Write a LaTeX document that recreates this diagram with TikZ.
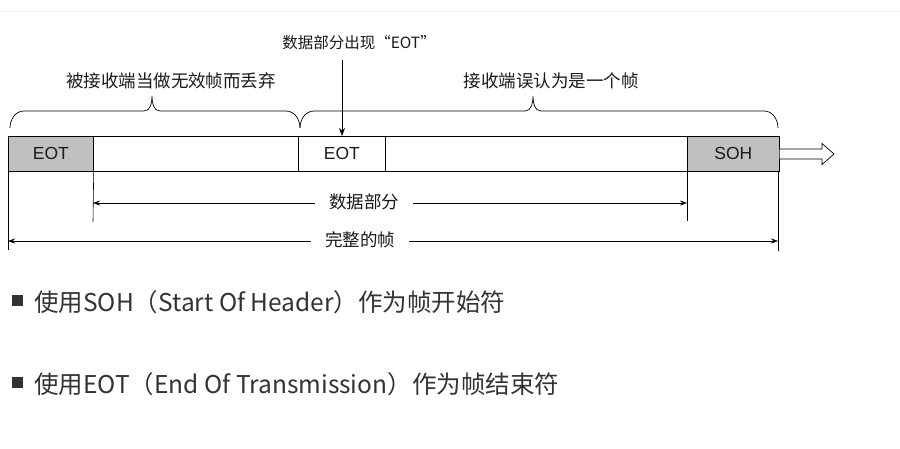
\documentclass[tikz,border=0pt]{standalone}
\usepackage{fontspec}
\setmainfont{Liberation Sans}
\newfontfamily\cjk{Noto Sans CJK SC}
\usetikzlibrary{arrows.meta}
\definecolor{boxgray}{HTML}{C0C0C0}
\definecolor{txt}{HTML}{1A1A1A}
\definecolor{bul}{HTML}{333333}
\begin{document}
\begin{tikzpicture}[x=1pt,y=-1pt,
  line width=0.7pt,
  cell/.style={draw=black, minimum height=35pt, inner sep=0pt, anchor=north west, text=txt,
               font=\fontsize{17.5}{19}\selectfont},
  graycell/.style={cell, fill=boxgray},
  lbl/.style={font=\cjk\fontsize{17.5}{20}\selectfont, text=txt, inner sep=0pt},
  gaplbl/.style={lbl, fill=white, inner xsep=14pt, inner ysep=2pt},
  dim/.style={draw=black, line width=0.6pt},
  dimarrow/.style={dim, {Stealth[length=7pt,width=5pt]}-{Stealth[length=7pt,width=5pt]}},
  bullettext/.style={font=\cjk\fontsize{24.5}{27}\selectfont, text=bul, anchor=west, inner sep=0pt}
]
\useasboundingbox (0,0) rectangle (900,449);
\fill[white] (0,0) rectangle (900,449);
% top rule
\draw[draw=black!7, line width=1pt] (0,12) -- (900,12);

% frame bar
\node[cell, minimum width=771pt] (bar) at (8,136) {};
\node[graycell, minimum width=85pt] (eota) at (8,136) {EOT};
\node[cell, minimum width=87pt] (eotb) at (298,136) {EOT};
\node[graycell, minimum width=92pt] (soh) at (687,136) {SOH};
% darker bottom edges of gray cells
\draw[line width=1.6pt] (eota.south west) -- (eota.south east);
\draw[line width=1.6pt] (soh.south west) -- (soh.south east);

% hollow arrow to the right
\draw[line width=0.7pt, fill=white]
  (soh.east |- 0,149) -- (822,149) -- (822,143.5) -- (834,154) -- (822,164.5) -- (822,159) -- (soh.east |- 0,159);

% braces
\coordinate (b1l) at (10,128);
\coordinate (b1t) at (152,96);
\coordinate (b1r) at (300,128);
\coordinate (b2l) at (300,128);
\coordinate (b2t) at (533,96);
\coordinate (b2r) at (778,128);
\draw[line width=0.7pt]
  (b1l) to[out=90,in=180] (24,111) -- (144,111) to[out=0,in=-90] (b1t)
  to[out=-90,in=180] (160,111) -- (286,111) to[out=0,in=90] (b1r);
\draw[line width=0.7pt]
  (b2l) to[out=90,in=180] (314,111) -- (525,111) to[out=0,in=-90] (b2t)
  to[out=-90,in=180] (541,111) -- (764,111) to[out=0,in=90] (b2r);

\node[lbl] (discard) at (171,81) {被接收端当做无效帧而丢弃};
\node[lbl] (mistake) at (551,81) {接收端误认为是一个帧};

% top label with arrow
\node[lbl, font=\cjk\fontsize{15.5}{18}\selectfont] (eotin) at (359,43) {数据部分出现“EOT”};
\coordinate (arrtop) at (342,60);
\draw[line width=0.7pt, -{Stealth[length=8pt,width=6pt]}] (arrtop) -- (arrtop |- eotb.north);

% dimension lines
\coordinate (v1) at (8,250);
\coordinate (v2) at (93,222);
\coordinate (v3) at (687,221);
\coordinate (v4) at (778,251);
\draw[dim] (eota.south west) -- (v1);
\draw[dim] (eota.south east) -- (v2);
\draw[dim] (soh.south west) -- (v3);
\draw[dim] (778,171) -- (v4);

\coordinate (d1l) at (93,203);
\coordinate (d1r) at (687,203);
\coordinate (d2l) at (8,241);
\coordinate (d2r) at (778,241);
\draw[dimarrow] (d1l) -- (d1r);
\draw[dimarrow] (d2l) -- (d2r);
\node[gaplbl] (datapart) at (364,202) {数据部分};
\node[gaplbl] (wholeframe) at (360,240) {完整的帧};

% bullets
\node[fill=bul, minimum size=11pt, inner sep=0pt] (sq1) at (17.5,300.5) {};
\node[bullettext] (t1) at (34,302) {使用SOH（Start Of Header）作为帧开始符};
\node[fill=bul, minimum size=11pt, inner sep=0pt] (sq2) at (17.5,382.5) {};
\node[bullettext] (t2) at (34,384) {使用EOT（End Of Transmission）作为帧结束符};
\end{tikzpicture}
\end{document}
